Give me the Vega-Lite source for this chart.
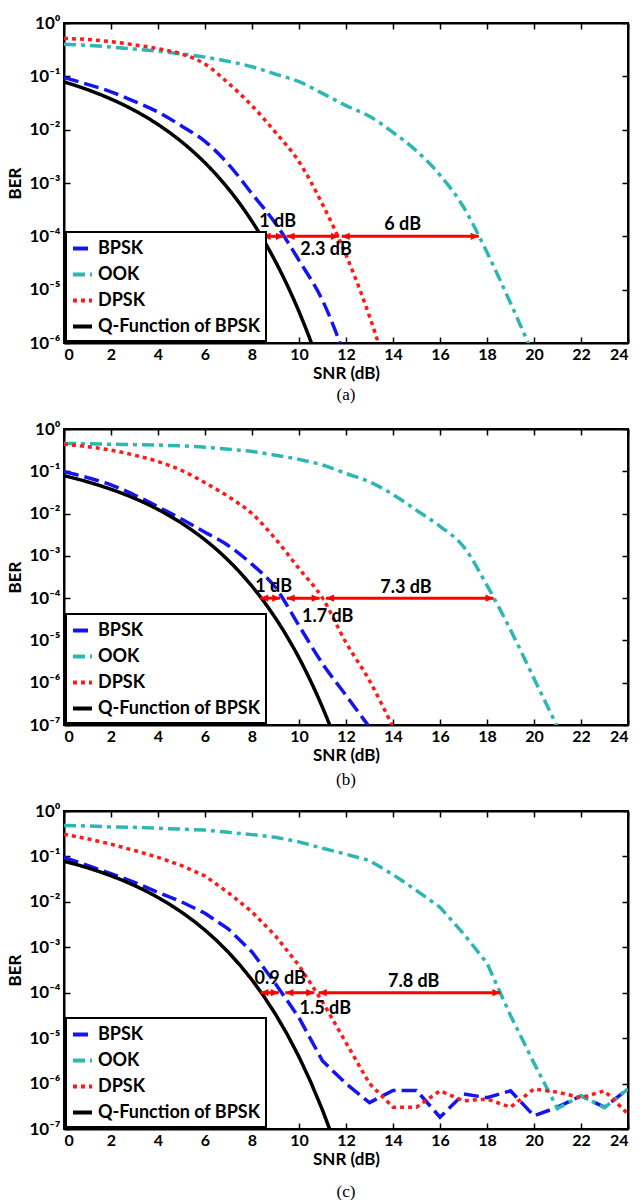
{
  "$schema": "https://vega.github.io/schema/vega-lite/v6.json",
  "background": "white",
  "padding": {"left": 5, "top": 13, "right": 5, "bottom": 5},
  "bounds": "flush",
  "spacing": 86,
  "resolve": {"scale": {"color": "independent", "strokeDash": "independent"}, "legend": {"color": "independent", "strokeDash": "independent"}},
  "config": {
    "font": "Lato",
    "view": {"stroke": "black", "strokeWidth": 2},
    "axis": {
      "grid": false,
      "domainColor": "black",
      "domainWidth": 2,
      "tickColor": "black",
      "tickWidth": 1.5,
      "tickSize": -6,
      "labelPadding": 10,
      "labelFont": "Lato",
      "labelFontWeight": "bold",
      "labelFontSize": 17,
      "labelColor": "black",
      "titleFont": "Lato",
      "titleFontWeight": "bold",
      "titleFontSize": 17,
      "titleColor": "black"
    },
    "axisX": {"titlePadding": 3, "labelFontSize": 16, "labelPadding": 9},
    "legend": {
      "title": null,
      "orient": "bottom-left",
      "offset": 2,
      "labelFont": "Lato",
      "labelFontWeight": "bold",
      "labelFontSize": 18,
      "labelColor": "black",
      "labelLimit": 300,
      "labelOffset": 4,
      "symbolType": "stroke",
      "symbolStrokeWidth": 4,
      "symbolSize": 361,
      "strokeColor": "black",
      "strokeWidth": 2,
      "fillColor": "white",
      "padding": 5,
      "rowPadding": 5
    },
    "title": {"font": "Liberation Serif", "fontSize": 17, "fontWeight": "normal", "color": "black", "orient": "bottom", "anchor": "middle", "offset": 6}
  },
  "datasets": {
    "curves": [
      {"p":"a","s":"BPSK","snr":0,"ber":0.0955},{"p":"a","s":"BPSK","snr":1,"ber":0.0708},{"p":"a","s":"BPSK","snr":2,"ber":0.0513},{"p":"a","s":"BPSK","snr":3,"ber":0.0339},{"p":"a","s":"BPSK","snr":4,"ber":0.0214},{"p":"a","s":"BPSK","snr":5,"ber":0.01175},{"p":"a","s":"BPSK","snr":6,"ber":0.00603},{"p":"a","s":"BPSK","snr":7,"ber":0.00224},{"p":"a","s":"BPSK","snr":8,"ber":0.000631},{"p":"a","s":"BPSK","snr":9,"ber":0.000174},{"p":"a","s":"BPSK","snr":10,"ber":0.0000355},{"p":"a","s":"BPSK","snr":11,"ber":0.00000631},{"p":"a","s":"BPSK","snr":12,"ber":0.000000501},
      {"p":"a","s":"OOK","snr":0,"ber":0.398},{"p":"a","s":"OOK","snr":1,"ber":0.38},{"p":"a","s":"OOK","snr":2,"ber":0.355},{"p":"a","s":"OOK","snr":3,"ber":0.324},{"p":"a","s":"OOK","snr":4,"ber":0.295},{"p":"a","s":"OOK","snr":5,"ber":0.263},{"p":"a","s":"OOK","snr":6,"ber":0.229},{"p":"a","s":"OOK","snr":7,"ber":0.191},{"p":"a","s":"OOK","snr":8,"ber":0.151},{"p":"a","s":"OOK","snr":9,"ber":0.11},{"p":"a","s":"OOK","snr":10,"ber":0.0794},{"p":"a","s":"OOK","snr":11,"ber":0.0479},{"p":"a","s":"OOK","snr":12,"ber":0.0282},{"p":"a","s":"OOK","snr":13,"ber":0.0178},{"p":"a","s":"OOK","snr":14,"ber":0.0089},{"p":"a","s":"OOK","snr":15,"ber":0.00398},{"p":"a","s":"OOK","snr":16,"ber":0.00141},{"p":"a","s":"OOK","snr":17,"ber":0.000355},{"p":"a","s":"OOK","snr":18,"ber":0.0000501},{"p":"a","s":"OOK","snr":19,"ber":0.00000562},{"p":"a","s":"OOK","snr":20,"ber":0.000000562},
      {"p":"a","s":"DPSK","snr":0,"ber":0.513},{"p":"a","s":"DPSK","snr":1,"ber":0.49},{"p":"a","s":"DPSK","snr":2,"ber":0.447},{"p":"a","s":"DPSK","snr":3,"ber":0.389},{"p":"a","s":"DPSK","snr":4,"ber":0.331},{"p":"a","s":"DPSK","snr":5,"ber":0.263},{"p":"a","s":"DPSK","snr":6,"ber":0.17},{"p":"a","s":"DPSK","snr":7,"ber":0.0741},{"p":"a","s":"DPSK","snr":8,"ber":0.0282},{"p":"a","s":"DPSK","snr":9,"ber":0.00891},{"p":"a","s":"DPSK","snr":10,"ber":0.00251},{"p":"a","s":"DPSK","snr":11,"ber":0.000398},{"p":"a","s":"DPSK","snr":12,"ber":0.0000447},{"p":"a","s":"DPSK","snr":13,"ber":0.00000316},{"p":"a","s":"DPSK","snr":14,"ber":0.000000126},
      {"p":"a","s":"Q-Function of BPSK","snr":0,"ber":0.0786},{"p":"a","s":"Q-Function of BPSK","snr":0.5,"ber":0.0671},{"p":"a","s":"Q-Function of BPSK","snr":1,"ber":0.0563},{"p":"a","s":"Q-Function of BPSK","snr":1.5,"ber":0.0464},{"p":"a","s":"Q-Function of BPSK","snr":2,"ber":0.0375},{"p":"a","s":"Q-Function of BPSK","snr":2.5,"ber":0.0297},{"p":"a","s":"Q-Function of BPSK","snr":3,"ber":0.0229},{"p":"a","s":"Q-Function of BPSK","snr":3.5,"ber":0.0172},{"p":"a","s":"Q-Function of BPSK","snr":4,"ber":0.0125},{"p":"a","s":"Q-Function of BPSK","snr":4.5,"ber":0.00879},{"p":"a","s":"Q-Function of BPSK","snr":5,"ber":0.00595},{"p":"a","s":"Q-Function of BPSK","snr":5.5,"ber":0.00386},{"p":"a","s":"Q-Function of BPSK","snr":6,"ber":0.00239},{"p":"a","s":"Q-Function of BPSK","snr":6.5,"ber":0.0014},{"p":"a","s":"Q-Function of BPSK","snr":7,"ber":0.000773},{"p":"a","s":"Q-Function of BPSK","snr":7.5,"ber":0.000399},{"p":"a","s":"Q-Function of BPSK","snr":8,"ber":0.000191},{"p":"a","s":"Q-Function of BPSK","snr":8.5,"ber":0.000084},{"p":"a","s":"Q-Function of BPSK","snr":9,"ber":0.0000336},{"p":"a","s":"Q-Function of BPSK","snr":9.5,"ber":0.0000121},{"p":"a","s":"Q-Function of BPSK","snr":10,"ber":0.00000387},{"p":"a","s":"Q-Function of BPSK","snr":10.5,"ber":0.00000108},{"p":"a","s":"Q-Function of BPSK","snr":11,"ber":0.000000261},{"p":"a","s":"Q-Function of BPSK","snr":11.5,"ber":0.0000000533},

      {"p":"b","s":"BPSK","snr":0,"ber":0.0977},{"p":"b","s":"BPSK","snr":1,"ber":0.0708},{"p":"b","s":"BPSK","snr":2,"ber":0.0479},{"p":"b","s":"BPSK","snr":3,"ber":0.0275},{"p":"b","s":"BPSK","snr":4,"ber":0.0145},{"p":"b","s":"BPSK","snr":5,"ber":0.00741},{"p":"b","s":"BPSK","snr":6,"ber":0.00363},{"p":"b","s":"BPSK","snr":7,"ber":0.00174},{"p":"b","s":"BPSK","snr":8,"ber":0.00063},{"p":"b","s":"BPSK","snr":9,"ber":0.000178},{"p":"b","s":"BPSK","snr":10,"ber":0.0000224},{"p":"b","s":"BPSK","snr":11,"ber":0.00000282},{"p":"b","s":"BPSK","snr":12,"ber":0.000000501},{"p":"b","s":"BPSK","snr":13,"ber":0.000000089},
      {"p":"b","s":"OOK","snr":0,"ber":0.457},{"p":"b","s":"OOK","snr":1,"ber":0.447},{"p":"b","s":"OOK","snr":2,"ber":0.437},{"p":"b","s":"OOK","snr":3,"ber":0.427},{"p":"b","s":"OOK","snr":4,"ber":0.417},{"p":"b","s":"OOK","snr":5,"ber":0.398},{"p":"b","s":"OOK","snr":6,"ber":0.372},{"p":"b","s":"OOK","snr":7,"ber":0.331},{"p":"b","s":"OOK","snr":8,"ber":0.295},{"p":"b","s":"OOK","snr":9,"ber":0.24},{"p":"b","s":"OOK","snr":10,"ber":0.191},{"p":"b","s":"OOK","snr":11,"ber":0.141},{"p":"b","s":"OOK","snr":12,"ber":0.0891},{"p":"b","s":"OOK","snr":13,"ber":0.0562},{"p":"b","s":"OOK","snr":14,"ber":0.0282},{"p":"b","s":"OOK","snr":15,"ber":0.012},{"p":"b","s":"OOK","snr":16,"ber":0.00501},{"p":"b","s":"OOK","snr":17,"ber":0.00166},{"p":"b","s":"OOK","snr":18,"ber":0.0002},{"p":"b","s":"OOK","snr":19,"ber":0.0000178},{"p":"b","s":"OOK","snr":20,"ber":0.00000126},{"p":"b","s":"OOK","snr":21,"ber":0.000000089},
      {"p":"b","s":"DPSK","snr":0,"ber":0.437},{"p":"b","s":"DPSK","snr":1,"ber":0.38},{"p":"b","s":"DPSK","snr":2,"ber":0.316},{"p":"b","s":"DPSK","snr":3,"ber":0.24},{"p":"b","s":"DPSK","snr":4,"ber":0.17},{"p":"b","s":"DPSK","snr":5,"ber":0.105},{"p":"b","s":"DPSK","snr":6,"ber":0.0537},{"p":"b","s":"DPSK","snr":7,"ber":0.0251},{"p":"b","s":"DPSK","snr":8,"ber":0.01},{"p":"b","s":"DPSK","snr":9,"ber":0.00251},{"p":"b","s":"DPSK","snr":10,"ber":0.000501},{"p":"b","s":"DPSK","snr":11,"ber":0.0001},{"p":"b","s":"DPSK","snr":12,"ber":0.00000891},{"p":"b","s":"DPSK","snr":13,"ber":0.00000112},{"p":"b","s":"DPSK","snr":14,"ber":0.000000089},
      {"p":"b","s":"Q-Function of BPSK","snr":0,"ber":0.0786},{"p":"b","s":"Q-Function of BPSK","snr":0.5,"ber":0.0671},{"p":"b","s":"Q-Function of BPSK","snr":1,"ber":0.0563},{"p":"b","s":"Q-Function of BPSK","snr":1.5,"ber":0.0464},{"p":"b","s":"Q-Function of BPSK","snr":2,"ber":0.0375},{"p":"b","s":"Q-Function of BPSK","snr":2.5,"ber":0.0297},{"p":"b","s":"Q-Function of BPSK","snr":3,"ber":0.0229},{"p":"b","s":"Q-Function of BPSK","snr":3.5,"ber":0.0172},{"p":"b","s":"Q-Function of BPSK","snr":4,"ber":0.0125},{"p":"b","s":"Q-Function of BPSK","snr":4.5,"ber":0.00879},{"p":"b","s":"Q-Function of BPSK","snr":5,"ber":0.00595},{"p":"b","s":"Q-Function of BPSK","snr":5.5,"ber":0.00386},{"p":"b","s":"Q-Function of BPSK","snr":6,"ber":0.00239},{"p":"b","s":"Q-Function of BPSK","snr":6.5,"ber":0.0014},{"p":"b","s":"Q-Function of BPSK","snr":7,"ber":0.000773},{"p":"b","s":"Q-Function of BPSK","snr":7.5,"ber":0.000399},{"p":"b","s":"Q-Function of BPSK","snr":8,"ber":0.000191},{"p":"b","s":"Q-Function of BPSK","snr":8.5,"ber":0.000084},{"p":"b","s":"Q-Function of BPSK","snr":9,"ber":0.0000336},{"p":"b","s":"Q-Function of BPSK","snr":9.5,"ber":0.0000121},{"p":"b","s":"Q-Function of BPSK","snr":10,"ber":0.00000387},{"p":"b","s":"Q-Function of BPSK","snr":10.5,"ber":0.00000108},{"p":"b","s":"Q-Function of BPSK","snr":11,"ber":0.000000261},{"p":"b","s":"Q-Function of BPSK","snr":11.5,"ber":0.0000000533},

      {"p":"c","s":"BPSK","snr":0,"ber":0.0955},{"p":"c","s":"BPSK","snr":1,"ber":0.0631},{"p":"c","s":"BPSK","snr":2,"ber":0.0417},{"p":"c","s":"BPSK","snr":3,"ber":0.0269},{"p":"c","s":"BPSK","snr":4,"ber":0.0162},{"p":"c","s":"BPSK","snr":5,"ber":0.01},{"p":"c","s":"BPSK","snr":6,"ber":0.00562},{"p":"c","s":"BPSK","snr":7,"ber":0.00251},{"p":"c","s":"BPSK","snr":8,"ber":0.00079},{"p":"c","s":"BPSK","snr":9,"ber":0.000158},{"p":"c","s":"BPSK","snr":10,"ber":0.0000282},{"p":"c","s":"BPSK","snr":11,"ber":0.00000316},{"p":"c","s":"BPSK","snr":12,"ber":0.000001},{"p":"c","s":"BPSK","snr":13,"ber":0.00000038},{"p":"c","s":"BPSK","snr":14,"ber":0.000000708},{"p":"c","s":"BPSK","snr":15,"ber":0.000000708},{"p":"c","s":"BPSK","snr":16,"ber":0.000000182},{"p":"c","s":"BPSK","snr":17,"ber":0.000000589},{"p":"c","s":"BPSK","snr":18,"ber":0.00000049},{"p":"c","s":"BPSK","snr":19,"ber":0.000000692},{"p":"c","s":"BPSK","snr":20,"ber":0.000000195},{"p":"c","s":"BPSK","snr":21,"ber":0.000000302},{"p":"c","s":"BPSK","snr":22,"ber":0.000000537},{"p":"c","s":"BPSK","snr":23,"ber":0.000000302},{"p":"c","s":"BPSK","snr":24,"ber":0.000000759},
      {"p":"c","s":"OOK","snr":0,"ber":0.479},{"p":"c","s":"OOK","snr":1,"ber":0.468},{"p":"c","s":"OOK","snr":2,"ber":0.447},{"p":"c","s":"OOK","snr":3,"ber":0.437},{"p":"c","s":"OOK","snr":4,"ber":0.417},{"p":"c","s":"OOK","snr":5,"ber":0.398},{"p":"c","s":"OOK","snr":6,"ber":0.38},{"p":"c","s":"OOK","snr":7,"ber":0.339},{"p":"c","s":"OOK","snr":8,"ber":0.302},{"p":"c","s":"OOK","snr":9,"ber":0.263},{"p":"c","s":"OOK","snr":10,"ber":0.209},{"p":"c","s":"OOK","snr":11,"ber":0.151},{"p":"c","s":"OOK","snr":12,"ber":0.112},{"p":"c","s":"OOK","snr":13,"ber":0.0813},{"p":"c","s":"OOK","snr":14,"ber":0.0398},{"p":"c","s":"OOK","snr":15,"ber":0.0178},{"p":"c","s":"OOK","snr":16,"ber":0.00759},{"p":"c","s":"OOK","snr":17,"ber":0.002},{"p":"c","s":"OOK","snr":18,"ber":0.000447},{"p":"c","s":"OOK","snr":19,"ber":0.0000316},{"p":"c","s":"OOK","snr":20,"ber":0.00000282},{"p":"c","s":"OOK","snr":21,"ber":0.000000282},{"p":"c","s":"OOK","snr":22,"ber":0.000000537},{"p":"c","s":"OOK","snr":23,"ber":0.000000295},{"p":"c","s":"OOK","snr":24,"ber":0.000000759},
      {"p":"c","s":"DPSK","snr":0,"ber":0.309},{"p":"c","s":"DPSK","snr":1,"ber":0.245},{"p":"c","s":"DPSK","snr":2,"ber":0.186},{"p":"c","s":"DPSK","snr":3,"ber":0.135},{"p":"c","s":"DPSK","snr":4,"ber":0.0955},{"p":"c","s":"DPSK","snr":5,"ber":0.0631},{"p":"c","s":"DPSK","snr":6,"ber":0.0372},{"p":"c","s":"DPSK","snr":7,"ber":0.0158},{"p":"c","s":"DPSK","snr":8,"ber":0.00603},{"p":"c","s":"DPSK","snr":9,"ber":0.00178},{"p":"c","s":"DPSK","snr":10,"ber":0.000398},{"p":"c","s":"DPSK","snr":11,"ber":0.0000631},{"p":"c","s":"DPSK","snr":12,"ber":0.00000794},{"p":"c","s":"DPSK","snr":13,"ber":0.000001},{"p":"c","s":"DPSK","snr":14,"ber":0.000000302},{"p":"c","s":"DPSK","snr":15,"ber":0.000000302},{"p":"c","s":"DPSK","snr":16,"ber":0.000000692},{"p":"c","s":"DPSK","snr":17,"ber":0.000000417},{"p":"c","s":"DPSK","snr":18,"ber":0.000000457},{"p":"c","s":"DPSK","snr":19,"ber":0.000000302},{"p":"c","s":"DPSK","snr":20,"ber":0.000000759},{"p":"c","s":"DPSK","snr":21,"ber":0.000000646},{"p":"c","s":"DPSK","snr":22,"ber":0.00000049},{"p":"c","s":"DPSK","snr":23,"ber":0.000000692},{"p":"c","s":"DPSK","snr":24,"ber":0.000000214},
      {"p":"c","s":"Q-Function of BPSK","snr":0,"ber":0.0786},{"p":"c","s":"Q-Function of BPSK","snr":0.5,"ber":0.0671},{"p":"c","s":"Q-Function of BPSK","snr":1,"ber":0.0563},{"p":"c","s":"Q-Function of BPSK","snr":1.5,"ber":0.0464},{"p":"c","s":"Q-Function of BPSK","snr":2,"ber":0.0375},{"p":"c","s":"Q-Function of BPSK","snr":2.5,"ber":0.0297},{"p":"c","s":"Q-Function of BPSK","snr":3,"ber":0.0229},{"p":"c","s":"Q-Function of BPSK","snr":3.5,"ber":0.0172},{"p":"c","s":"Q-Function of BPSK","snr":4,"ber":0.0125},{"p":"c","s":"Q-Function of BPSK","snr":4.5,"ber":0.00879},{"p":"c","s":"Q-Function of BPSK","snr":5,"ber":0.00595},{"p":"c","s":"Q-Function of BPSK","snr":5.5,"ber":0.00386},{"p":"c","s":"Q-Function of BPSK","snr":6,"ber":0.00239},{"p":"c","s":"Q-Function of BPSK","snr":6.5,"ber":0.0014},{"p":"c","s":"Q-Function of BPSK","snr":7,"ber":0.000773},{"p":"c","s":"Q-Function of BPSK","snr":7.5,"ber":0.000399},{"p":"c","s":"Q-Function of BPSK","snr":8,"ber":0.000191},{"p":"c","s":"Q-Function of BPSK","snr":8.5,"ber":0.000084},{"p":"c","s":"Q-Function of BPSK","snr":9,"ber":0.0000336},{"p":"c","s":"Q-Function of BPSK","snr":9.5,"ber":0.0000121},{"p":"c","s":"Q-Function of BPSK","snr":10,"ber":0.00000387},{"p":"c","s":"Q-Function of BPSK","snr":10.5,"ber":0.00000108},{"p":"c","s":"Q-Function of BPSK","snr":11,"ber":0.000000261},{"p":"c","s":"Q-Function of BPSK","snr":11.5,"ber":0.0000000533}
    ],
    "arrows": [
      {"p":"a","start":8.45,"end":9.36,"ber":0.0001,"label":"1 dB","lx":9.09,"ly":0.000182},
      {"p":"a","start":9.47,"end":11.7,"ber":0.0001,"label":"2.3 dB","lx":11.15,"ly":0.000055},
      {"p":"a","start":11.82,"end":17.65,"ber":0.0001,"label":"6 dB","lx":14.41,"ly":0.000163},
      {"p":"b","start":8.35,"end":9.2,"ber":0.0001,"label":"1 dB","lx":8.92,"ly":0.000187},
      {"p":"b","start":9.48,"end":10.88,"ber":0.0001,"label":"1.7 dB","lx":11.22,"ly":0.000036},
      {"p":"b","start":11.15,"end":18.28,"ber":0.0001,"label":"7.3 dB","lx":14.55,"ly":0.000174},
      {"p":"c","start":8.36,"end":9.14,"ber":0.0001,"label":"0.9 dB","lx":9.2,"ly":0.0002},
      {"p":"c","start":9.42,"end":10.65,"ber":0.0001,"label":"1.5 dB","lx":11.12,"ly":0.000044},
      {"p":"c","start":10.84,"end":18.57,"ber":0.0001,"label":"7.8 dB","lx":14.88,"ly":0.000173}
    ]
  },
  "vconcat": [
    {
      "width": 564, "height": 320,
      "title": {"text": "(a)", "orient": "bottom", "offset": 6},
      "resolve": {"axis": {"x": "independent", "y": "independent"}},
      "layer": [
        {
          "data": {"name": "curves"},
          "transform": [{"filter": "datum.p == 'a'"}],
          "mark": {"type": "line", "clip": true, "strokeWidth": 3.5, "interpolate": "monotone"},
          "encoding": {
            "x": {"field": "snr", "type": "quantitative", "scale": {"domain": [0, 24], "nice": false, "zero": false}, "axis": {"title": "SNR (dB)", "values": [0,2,4,6,8,10,12,14,16,18,20,22,24]}},
            "y": {"field": "ber", "type": "quantitative", "scale": {"type": "log", "domain": [0.000001, 1], "nice": false}, "axis": {"title": "BER", "values": [1,0.1,0.01,0.001,0.0001,0.00001,0.000001], "labelExpr": "'10' + ['⁰','⁻¹','⁻²','⁻³','⁻⁴','⁻⁵','⁻⁶','⁻⁷'][-round(log(datum.value)/LN10)]"}},
            "color": {"field": "s", "type": "nominal", "scale": {"domain": ["BPSK","OOK","DPSK","Q-Function of BPSK"], "range": ["#1414f0","#2db7b2","#ff1a1a","#000000"]}, "legend": {"title": null}},
            "strokeDash": {"field": "s", "type": "nominal", "scale": {"domain": ["BPSK","OOK","DPSK","Q-Function of BPSK"], "range": [[15,6],[12,5,4,5],[4,4],[1,0]]}, "legend": {"title": null}}
          }
        },
        {
          "data": {"name": "arrows"},
          "transform": [{"filter": "datum.p == 'a'"}],
          "mark": {"type": "rule", "color": "#ff0000", "strokeWidth": 3},
          "encoding": {
            "x": {"field": "start", "type": "quantitative", "scale": {"domain": [0, 24], "nice": false, "zero": false}, "axis": {"orient": "top", "labels": false, "title": null, "values": [0,2,4,6,8,10,12,14,16,18,20,22,24]}},
            "x2": {"field": "end"},
            "y": {"field": "ber", "type": "quantitative", "scale": {"type": "log", "domain": [0.000001, 1], "nice": false}, "axis": {"orient": "right", "labels": false, "title": null, "values": [1,0.1,0.01,0.001,0.0001,0.00001,0.000001]}}
          }
        },
        {
          "data": {"name": "arrows"},
          "transform": [{"filter": "datum.p == 'a'"}],
          "mark": {"type": "point", "shape": "M0,0L2,-0.9L2,0.9Z", "filled": true, "color": "#ff0000", "opacity": 1, "size": 64, "strokeWidth": 0},
          "encoding": {
            "x": {"field": "start", "type": "quantitative", "axis": null},
            "y": {"field": "ber", "type": "quantitative", "axis": null}
          }
        },
        {
          "data": {"name": "arrows"},
          "transform": [{"filter": "datum.p == 'a'"}],
          "mark": {"type": "point", "shape": "M0,0L-2,-0.9L-2,0.9Z", "filled": true, "color": "#ff0000", "opacity": 1, "size": 64, "strokeWidth": 0},
          "encoding": {
            "x": {"field": "end", "type": "quantitative", "axis": null},
            "y": {"field": "ber", "type": "quantitative", "axis": null}
          }
        },
        {
          "data": {"name": "arrows"},
          "transform": [{"filter": "datum.p == 'a'"}],
          "mark": {"type": "text", "font": "Lato", "fontWeight": "bold", "fontSize": 18, "color": "black", "align": "center", "baseline": "middle"},
          "encoding": {
            "x": {"field": "lx", "type": "quantitative", "axis": null},
            "y": {"field": "ly", "type": "quantitative", "axis": null},
            "text": {"field": "label"}
          }
        }
      ]
    },
    {
      "width": 564, "height": 296,
      "title": {"text": "(b)", "orient": "bottom", "offset": 9},
      "resolve": {"axis": {"x": "independent", "y": "independent"}},
      "layer": [
        {
          "data": {"name": "curves"},
          "transform": [{"filter": "datum.p == 'b'"}],
          "mark": {"type": "line", "clip": true, "strokeWidth": 3.5, "interpolate": "monotone"},
          "encoding": {
            "x": {"field": "snr", "type": "quantitative", "scale": {"domain": [0, 24], "nice": false, "zero": false}, "axis": {"title": "SNR (dB)", "values": [0,2,4,6,8,10,12,14,16,18,20,22,24]}},
            "y": {"field": "ber", "type": "quantitative", "scale": {"type": "log", "domain": [0.0000001, 1], "nice": false}, "axis": {"title": "BER", "values": [1,0.1,0.01,0.001,0.0001,0.00001,0.000001,0.0000001], "labelExpr": "'10' + ['⁰','⁻¹','⁻²','⁻³','⁻⁴','⁻⁵','⁻⁶','⁻⁷'][-round(log(datum.value)/LN10)]"}},
            "color": {"field": "s", "type": "nominal", "scale": {"domain": ["BPSK","OOK","DPSK","Q-Function of BPSK"], "range": ["#1414f0","#2db7b2","#ff1a1a","#000000"]}, "legend": {"title": null}},
            "strokeDash": {"field": "s", "type": "nominal", "scale": {"domain": ["BPSK","OOK","DPSK","Q-Function of BPSK"], "range": [[15,6],[12,5,4,5],[4,4],[1,0]]}, "legend": {"title": null}}
          }
        },
        {
          "data": {"name": "arrows"},
          "transform": [{"filter": "datum.p == 'b'"}],
          "mark": {"type": "rule", "color": "#ff0000", "strokeWidth": 3},
          "encoding": {
            "x": {"field": "start", "type": "quantitative", "scale": {"domain": [0, 24], "nice": false, "zero": false}, "axis": {"orient": "top", "labels": false, "title": null, "values": [0,2,4,6,8,10,12,14,16,18,20,22,24]}},
            "x2": {"field": "end"},
            "y": {"field": "ber", "type": "quantitative", "scale": {"type": "log", "domain": [0.0000001, 1], "nice": false}, "axis": {"orient": "right", "labels": false, "title": null, "values": [1,0.1,0.01,0.001,0.0001,0.00001,0.000001,0.0000001]}}
          }
        },
        {
          "data": {"name": "arrows"},
          "transform": [{"filter": "datum.p == 'b'"}],
          "mark": {"type": "point", "shape": "M0,0L2,-0.9L2,0.9Z", "filled": true, "color": "#ff0000", "opacity": 1, "size": 64, "strokeWidth": 0},
          "encoding": {
            "x": {"field": "start", "type": "quantitative", "axis": null},
            "y": {"field": "ber", "type": "quantitative", "axis": null}
          }
        },
        {
          "data": {"name": "arrows"},
          "transform": [{"filter": "datum.p == 'b'"}],
          "mark": {"type": "point", "shape": "M0,0L-2,-0.9L-2,0.9Z", "filled": true, "color": "#ff0000", "opacity": 1, "size": 64, "strokeWidth": 0},
          "encoding": {
            "x": {"field": "end", "type": "quantitative", "axis": null},
            "y": {"field": "ber", "type": "quantitative", "axis": null}
          }
        },
        {
          "data": {"name": "arrows"},
          "transform": [{"filter": "datum.p == 'b'"}],
          "mark": {"type": "text", "font": "Lato", "fontWeight": "bold", "fontSize": 18, "color": "black", "align": "center", "baseline": "middle"},
          "encoding": {
            "x": {"field": "lx", "type": "quantitative", "axis": null},
            "y": {"field": "ly", "type": "quantitative", "axis": null},
            "text": {"field": "label"}
          }
        }
      ]
    },
    {
      "width": 564, "height": 318,
      "title": {"text": "(c)", "orient": "bottom", "offset": 17},
      "resolve": {"axis": {"x": "independent", "y": "independent"}},
      "layer": [
        {
          "data": {"name": "curves"},
          "transform": [{"filter": "datum.p == 'c'"}],
          "mark": {"type": "line", "clip": true, "strokeWidth": 3.5},
          "encoding": {
            "x": {"field": "snr", "type": "quantitative", "scale": {"domain": [0, 24], "nice": false, "zero": false}, "axis": {"title": "SNR (dB)", "values": [0,2,4,6,8,10,12,14,16,18,20,22,24]}},
            "y": {"field": "ber", "type": "quantitative", "scale": {"type": "log", "domain": [0.0000001, 1], "nice": false}, "axis": {"title": "BER", "values": [1,0.1,0.01,0.001,0.0001,0.00001,0.000001,0.0000001], "labelExpr": "'10' + ['⁰','⁻¹','⁻²','⁻³','⁻⁴','⁻⁵','⁻⁶','⁻⁷'][-round(log(datum.value)/LN10)]"}},
            "color": {"field": "s", "type": "nominal", "scale": {"domain": ["BPSK","OOK","DPSK","Q-Function of BPSK"], "range": ["#1414f0","#2db7b2","#ff1a1a","#000000"]}, "legend": {"title": null}},
            "strokeDash": {"field": "s", "type": "nominal", "scale": {"domain": ["BPSK","OOK","DPSK","Q-Function of BPSK"], "range": [[15,6],[12,5,4,5],[4,4],[1,0]]}, "legend": {"title": null}}
          }
        },
        {
          "data": {"name": "arrows"},
          "transform": [{"filter": "datum.p == 'c'"}],
          "mark": {"type": "rule", "color": "#ff0000", "strokeWidth": 3},
          "encoding": {
            "x": {"field": "start", "type": "quantitative", "scale": {"domain": [0, 24], "nice": false, "zero": false}, "axis": {"orient": "top", "labels": false, "title": null, "values": [0,2,4,6,8,10,12,14,16,18,20,22,24]}},
            "x2": {"field": "end"},
            "y": {"field": "ber", "type": "quantitative", "scale": {"type": "log", "domain": [0.0000001, 1], "nice": false}, "axis": {"orient": "right", "labels": false, "title": null, "values": [1,0.1,0.01,0.001,0.0001,0.00001,0.000001,0.0000001]}}
          }
        },
        {
          "data": {"name": "arrows"},
          "transform": [{"filter": "datum.p == 'c'"}],
          "mark": {"type": "point", "shape": "M0,0L2,-0.9L2,0.9Z", "filled": true, "color": "#ff0000", "opacity": 1, "size": 64, "strokeWidth": 0},
          "encoding": {
            "x": {"field": "start", "type": "quantitative", "axis": null},
            "y": {"field": "ber", "type": "quantitative", "axis": null}
          }
        },
        {
          "data": {"name": "arrows"},
          "transform": [{"filter": "datum.p == 'c'"}],
          "mark": {"type": "point", "shape": "M0,0L-2,-0.9L-2,0.9Z", "filled": true, "color": "#ff0000", "opacity": 1, "size": 64, "strokeWidth": 0},
          "encoding": {
            "x": {"field": "end", "type": "quantitative", "axis": null},
            "y": {"field": "ber", "type": "quantitative", "axis": null}
          }
        },
        {
          "data": {"name": "arrows"},
          "transform": [{"filter": "datum.p == 'c'"}],
          "mark": {"type": "text", "font": "Lato", "fontWeight": "bold", "fontSize": 18, "color": "black", "align": "center", "baseline": "middle"},
          "encoding": {
            "x": {"field": "lx", "type": "quantitative", "axis": null},
            "y": {"field": "ly", "type": "quantitative", "axis": null},
            "text": {"field": "label"}
          }
        }
      ]
    }
  ]
}
